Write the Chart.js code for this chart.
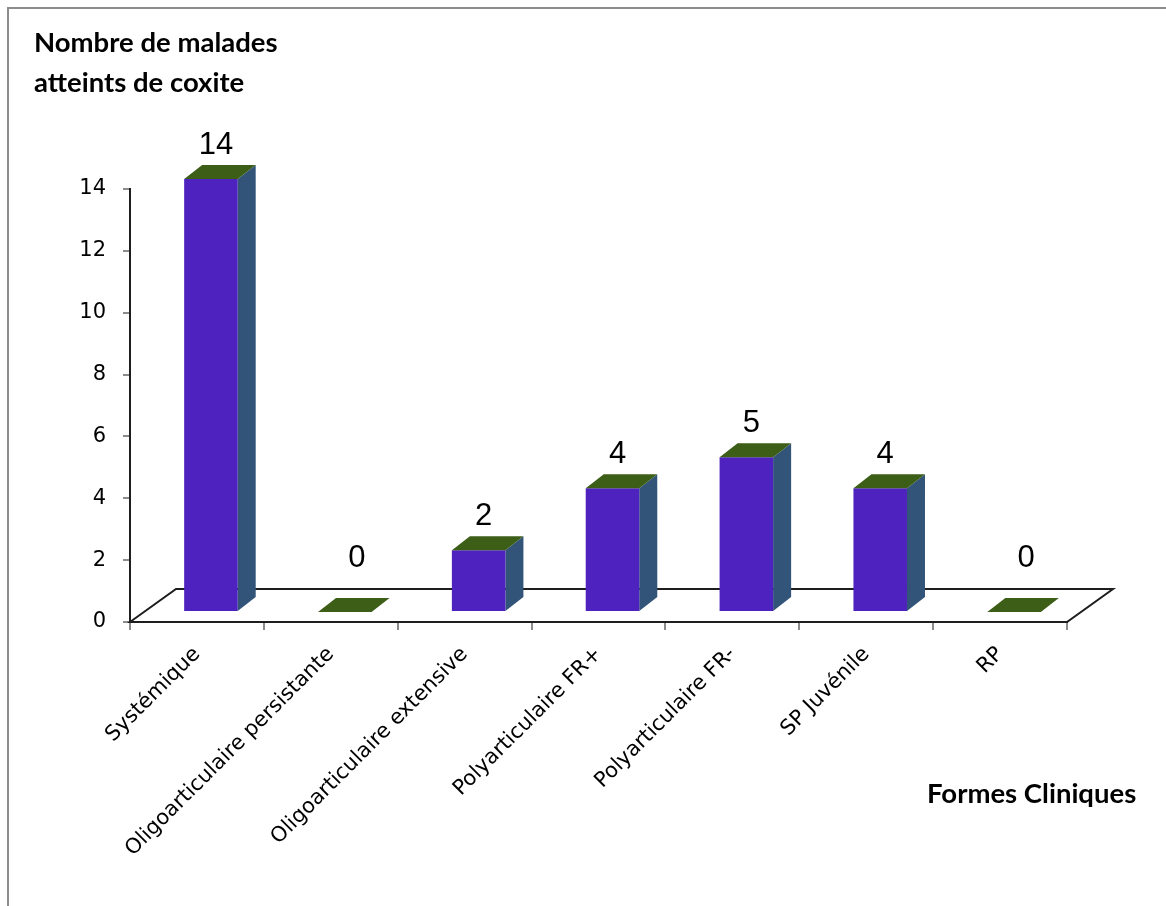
<!DOCTYPE html>
<html lang="fr">
<head>
<meta charset="utf-8">
<title>Coxite selon la forme clinique</title>
<script src="https://cdn.jsdelivr.net/npm/chart.js@4.4.1/dist/chart.umd.min.js"></script>
<style>
    html, body { margin: 0; padding: 0; background: #fff; }
    .frame { position: relative; width: 1166px; height: 906px; overflow: hidden; }
    .frame::before {
        content: '';
        position: absolute;
        left: 7px;
        top: 7px;
        width: 1200px;
        height: 1000px;
        border: 2px solid #8c8c8c;
    }
    canvas { position: absolute; left: 0; top: 0; }
    .axis-title {
        position: absolute;
        font: bold 27.5px Lato, sans-serif;
        line-height: 40px;
        color: #000;
        white-space: nowrap;
    }
    .y-title { left: 34px; top: 22px; }
    .x-title { left: 927px; top: 773px; }
</style>
</head>
<body>
<div class="frame">
    <canvas id="chart" width="1166" height="906"></canvas>
    <div class="axis-title y-title">Nombre de malades<br>atteints de coxite</div>
    <div class="axis-title x-title">Formes Cliniques</div>
</div>
<script>
const categories = [
    'Systémique',
    'Oligoarticulaire persistante',
    'Oligoarticulaire extensive',
    'Polyarticulaire FR+',
    'Polyarticulaire FR-',
    'SP Juvénile',
    'RP',
];
const patientCounts = [14, 0, 2, 4, 5, 4, 0];
const yAxisMin = 0;
const yAxisMax = 14;
const yAxisStep = 2;

(function () {
    const FRONT_COLOR = '#4d22be';
    const TOP_COLOR = '#3d5e17';
    const SIDE_COLOR = '#325478';
    const LINE_COLOR = '#1e1e1e';
    const TICK_COLOR = '#8c8c8c';

    // fake 3D: bars sit a little behind the front edge of the floor
    const BAR_SHIFT = { x: 14, y: -10 };
    const BAR_DEPTH = { x: 18, y: -14 };
    const FLOOR_DEPTH = { x: 46, y: -33 };

    function fillPolygon(ctx, points, color) {
        ctx.beginPath();
        ctx.moveTo(points[0][0], points[0][1]);
        for (let i = 1; i < points.length; i++) {
            ctx.lineTo(points[i][0], points[i][1]);
        }
        ctx.closePath();
        ctx.fillStyle = color;
        ctx.fill();
    }

    // keep the plot area exactly where the scales say, no extra label padding
    function clearPadding(scale) {
        scale.paddingLeft = 0;
        scale.paddingRight = 0;
        scale.paddingTop = 0;
        scale.paddingBottom = 0;
    }

    const prismBars = {
        id: 'prismBars',
        beforeDatasetsDraw(chart) {
            const { ctx, chartArea: area } = chart;
            ctx.save();
            ctx.beginPath();
            ctx.moveTo(area.left, area.bottom);
            ctx.lineTo(area.left + FLOOR_DEPTH.x, area.bottom + FLOOR_DEPTH.y);
            ctx.lineTo(area.right + FLOOR_DEPTH.x, area.bottom + FLOOR_DEPTH.y);
            ctx.lineTo(area.right, area.bottom);
            ctx.closePath();
            ctx.fillStyle = '#fff';
            ctx.fill();
            ctx.strokeStyle = LINE_COLOR;
            ctx.lineWidth = 2;
            ctx.stroke();
            ctx.restore();
        },
        afterDatasetsDraw(chart) {
            const ctx = chart.ctx;
            const meta = chart.getDatasetMeta(0);
            const dx = BAR_DEPTH.x;
            const dy = BAR_DEPTH.y;

            ctx.save();
            meta.data.forEach((bar, i) => {
                const left = bar.x - bar.width / 2 + BAR_SHIFT.x;
                const right = left + bar.width;
                const top = bar.y + BAR_SHIFT.y;
                const bottom = bar.base + BAR_SHIFT.y;

                if (bottom - top > 0.5) {
                    fillPolygon(ctx, [[right, top], [right + dx, top + dy], [right + dx, bottom + dy], [right, bottom]], SIDE_COLOR);
                    fillPolygon(ctx, [[left, top], [right, top], [right, bottom], [left, bottom]], FRONT_COLOR);
                }
                fillPolygon(ctx, [[left, top], [left + dx, top + dy], [right + dx, top + dy], [right, top]], TOP_COLOR);

                const value = patientCounts[i];
                const flat = value === 0;
                ctx.font = '31px "Liberation Sans", Arial, sans-serif';
                ctx.fillStyle = '#000';
                ctx.textAlign = 'center';
                ctx.textBaseline = 'alphabetic';
                ctx.fillText(String(value), (left + right) / 2 + (flat ? 12 : 5), top + dy - (flat ? 31 : 11));
            });
            ctx.restore();
        },
    };

    document.addEventListener('DOMContentLoaded', () => {
        const canvas = document.getElementById('chart');
        const tickFont = { family: '"DejaVu Sans", Verdana, sans-serif', size: 21 };

        new Chart(canvas.getContext('2d'), {
            type: 'bar',
            data: {
                labels: categories,
                datasets: [
                    {
                        label: 'Malades',
                        data: patientCounts,
                        backgroundColor: 'rgba(0,0,0,0)',
                        borderWidth: 0,
                        categoryPercentage: 1,
                        barPercentage: 0.4,
                    },
                ],
            },
            options: {
                responsive: false,
                animation: false,
                layout: {
                    padding: { left: 0, top: 189, right: 99, bottom: 0 },
                },
                plugins: {
                    legend: { display: false },
                    tooltip: { enabled: false },
                },
                scales: {
                    x: {
                        grid: {
                            offset: true,
                            drawOnChartArea: false,
                            tickLength: 8,
                            color: TICK_COLOR,
                            lineWidth: 2,
                        },
                        border: { color: LINE_COLOR, width: 2 },
                        ticks: {
                            autoSkip: false,
                            minRotation: 45,
                            maxRotation: 45,
                            padding: 12,
                            color: '#000',
                            font: tickFont,
                        },
                        afterFit(scale) {
                            scale.height = 284;
                            clearPadding(scale);
                        },
                    },
                    y: {
                        min: yAxisMin,
                        max: yAxisMax,
                        grid: {
                            drawOnChartArea: false,
                            tickLength: 7,
                            color: TICK_COLOR,
                            lineWidth: 2,
                        },
                        border: { color: LINE_COLOR, width: 2 },
                        ticks: {
                            stepSize: yAxisStep,
                            padding: 17,
                            color: '#000',
                            font: tickFont,
                        },
                        afterFit(scale) {
                            scale.width = 130;
                            clearPadding(scale);
                        },
                    },
                },
            },
            plugins: [prismBars],
        });
    });
})();
</script>
</body>
</html>
